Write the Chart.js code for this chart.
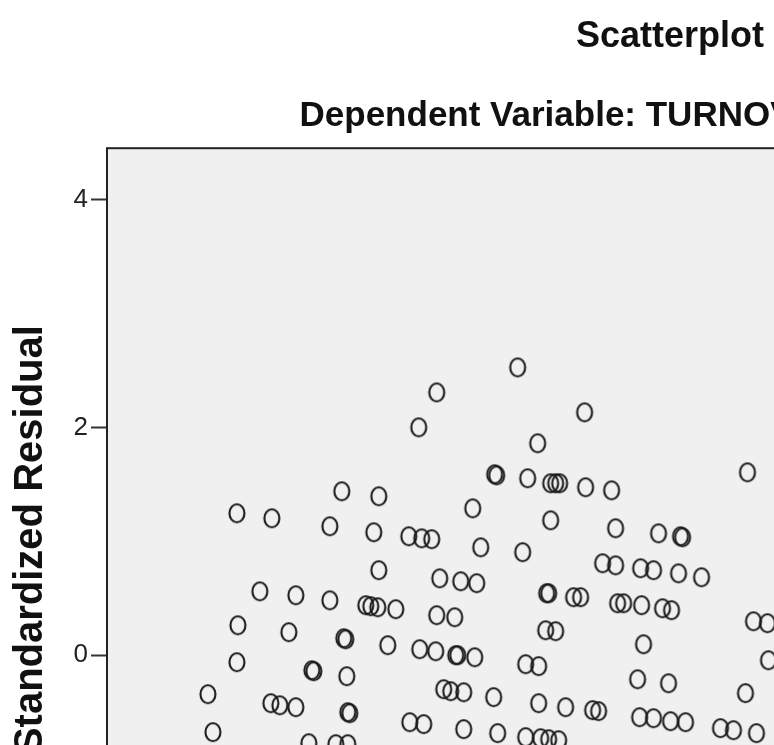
<!DOCTYPE html>
<html>
<head>
<meta charset="utf-8">
<script src="https://cdn.jsdelivr.net/npm/chart.js@4/dist/chart.umd.min.js"></script>
<style>
  html, body { margin: 0; padding: 0; background: #ffffff; overflow: hidden; }
  #wrap { position: absolute; left: 0; top: 0; }
</style>
</head>
<body>
<div id="wrap"><canvas id="c" width="1340" height="1270"></canvas></div>
<script>
// ---- data ----
const chartTitle = "Scatterplot";
const chartSubtitle = "Dependent Variable: TURNOVER INTENTION";
const xAxisTitle = "Regression Standardized Predicted Value";
const yAxisTitle = "Regression Standardized Residual";

const predictedValues = [
  -1.485, -1.89, -1.15, -1.98, -1.385, -0.335, -1.6, -1.59, -1.435, -1.32,
  -1.295, -1.275, -1.145, -1.015, -2.89, -2.715, -2.365, -2.18, -1.71, -2.425,
  -2.205, -1.32, -0.995, -2.03, -1.965, -1.915, -0.78, -0.67, -0.66, -1.67,
  -1.46, -2.18, -1.06, -0.995, -0.87, -0.805, -0.68, -0.565, -1.875, -1.77,
  -1.69, -2.775, -2.595, -2.425, -2.245, -2.22, -2.185, -2.095, -1.89, -1.8,
  -1.34, -1.33, -1.205, -1.17, -0.985, -0.955, -0.865, -0.76, -0.715, -2.885,
  -2.63, -2.355, -2.345, -2.135, -1.975, -1.895, -1.795, -1.785, -1.7, -1.345,
  -1.295, -0.855, -0.305, -0.235, -2.89, -2.515, -2.505, -2.34, -0.23, -1.445,
  -1.38, -0.885, -0.73, -3.035, -2.72, -2.675, -2.595, -2.335, -2.325, -1.855,
  -1.82, -1.755, -1.605, -1.38, -1.245, -1.11, -1.08, -0.345, -3.01, -2.53,
  -2.395, -2.335, -2.025, -1.955, -1.755, -1.585, -1.445, -1.37, -1.33, -1.28,
  -0.875, -0.805, -0.72, -0.645, -0.47, -0.405, -0.29
];
const standardizedResiduals = [
  2.526, 2.307, 2.132, 2.0, 1.86, 1.605, 1.588, 1.579, 1.553, 1.509,
  1.509, 1.509, 1.474, 1.447, 1.246, 1.202, 1.439, 1.395, 1.289, 1.132,
  1.079, 1.184, 1.114, 1.044, 1.026, 1.018, 1.07, 1.044, 1.035, 0.947,
  0.904, 0.746, 0.807, 0.789, 0.763, 0.746, 0.719, 0.684, 0.675, 0.649,
  0.632, 0.561, 0.526, 0.482, 0.439, 0.43, 0.421, 0.404, 0.351, 0.333,
  0.544, 0.544, 0.509, 0.509, 0.456, 0.456, 0.439, 0.412, 0.395, 0.263,
  0.202, 0.149, 0.14, 0.088, 0.053, 0.035, 0.0, 0.0, -0.018, 0.219,
  0.211, 0.096, 0.298, 0.281, -0.061, -0.132, -0.14, -0.184, -0.044, -0.079,
  -0.096, -0.211, -0.246, -0.342, -0.421, -0.439, -0.456, -0.5, -0.509, -0.298,
  -0.316, -0.325, -0.368, -0.421, -0.456, -0.482, -0.491, -0.333, -0.675, -0.772,
  -0.781, -0.781, -0.588, -0.605, -0.649, -0.684, -0.719, -0.728, -0.737, -0.746,
  -0.544, -0.553, -0.579, -0.588, -0.64, -0.658, -0.684
];
const yTickValues = [-4, -2, 0, 2, 4];
const xTickValues = [-3, -2, -1, 0, 1, 2];

// ---- build chart ----
const points = predictedValues.map((x, i) => ({ x: x, y: standardizedResiduals[i] }));

// hollow ellipse marker (SPSS style)
const marker = document.createElement('canvas');
marker.width = 20; marker.height = 24;
(function () {
  const m = marker.getContext('2d');
  m.strokeStyle = '#1a1a1a';
  m.lineWidth = 2.1;
  m.beginPath();
  m.ellipse(10, 12, 7.5, 9, 0, 0, Math.PI * 2);
  m.stroke();
})();

const frame = {
  id: 'frame',
  beforeDraw(chart) {
    const { ctx, chartArea: a } = chart;
    ctx.save();
    ctx.fillStyle = '#f0f0f0';
    ctx.fillRect(a.left, a.top, a.right - a.left, a.bottom - a.top);
    ctx.restore();
  },
  afterDraw(chart) {
    const { ctx, chartArea: a } = chart;
    ctx.save();
    ctx.strokeStyle = '#222222';
    ctx.lineWidth = 2;
    ctx.strokeRect(a.left, a.top, a.right - a.left, a.bottom - a.top);
    ctx.restore();
  }
};

const FONT = "'Liberation Sans', Arial, Helvetica, sans-serif";

new Chart(document.getElementById('c'), {
  type: 'scatter',
  data: {
    datasets: [{
      data: points,
      pointStyle: marker,
      pointRadius: 9,
      pointHoverRadius: 9
    }]
  },
  options: {
    responsive: false,
    animation: false,
    devicePixelRatio: 1,
    layout: { padding: { left: 0, right: 0, top: 0, bottom: 10 } },
    plugins: {
      legend: { display: false },
      tooltip: { enabled: false },
      title: {
        display: true,
        text: chartTitle,
        color: '#111',
        font: { family: FONT, size: 36, weight: 'bold' },
        padding: { top: 15, bottom: 37 }
      },
      subtitle: {
        display: true,
        text: chartSubtitle,
        color: '#111',
        font: { family: FONT, size: 35, weight: 'bold' },
        padding: { top: 0, bottom: 11 }
      }
    },
    scales: {
      x: {
        type: 'linear',
        position: 'bottom',
        min: -3.54,
        max: 2.58,
        afterBuildTicks(scale) { scale.ticks = xTickValues.map(v => ({ value: v })); },
        afterFit(scale) { scale.height = 100; },
        grid: { drawOnChartArea: false, tickLength: 16, tickColor: '#333', tickWidth: 2 },
        border: { display: false },
        ticks: { color: '#222', padding: 3, font: { family: FONT, size: 26 } },
        title: { display: true, text: xAxisTitle, color: '#111', font: { family: FONT, size: 40, weight: 'bold' } }
      },
      y: {
        type: 'linear',
        position: 'left',
        min: -4.43,
        max: 4.45,
        afterBuildTicks(scale) { scale.ticks = yTickValues.map(v => ({ value: v })); },
        afterFit(scale) { scale.width = 107; },
        grid: { drawOnChartArea: false, tickLength: 16, tickColor: '#333', tickWidth: 2 },
        border: { display: false },
        ticks: { color: '#222', padding: 3, font: { family: FONT, size: 26 } },
        title: {
          display: true,
          text: yAxisTitle,
          color: '#111',
          font: { family: FONT, size: 40, weight: 'bold' },
          padding: { top: 7, bottom: 0 }
        }
      }
    }
  },
  plugins: [frame]
});
</script>
</body>
</html>
